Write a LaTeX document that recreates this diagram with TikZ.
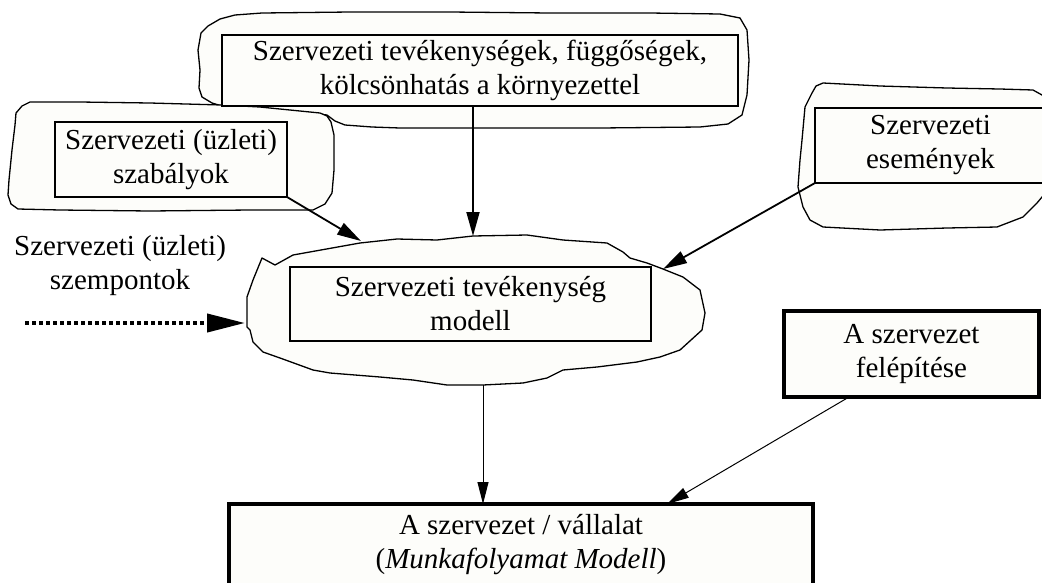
\documentclass[tikz,border=0pt]{standalone}
\usepackage{fontspec}
\setmainfont{Liberation Serif}
\usetikzlibrary{arrows.meta}

\definecolor{paper}{HTML}{FDFDFA}
\newcommand{\bodyfont}{\fontsize{29}{34}\selectfont}

\begin{document}
\begin{tikzpicture}[
		x=1pt, y=-1pt,
		box/.style={draw, line width=1.6pt, fill=paper, inner sep=0pt, outer sep=0pt, align=center, font=\bodyfont},
		thickbox/.style={box, line width=4pt},
		note/.style={align=center, font=\bodyfont, inner sep=0pt},
		blob/.style={draw, line width=1.3pt, fill=paper, line join=round},
		flow/.style={line width=1.8pt, -{Triangle[length=24pt,width=13pt]}},
		thinflow/.style={line width=1pt, -{Triangle[length=22pt,width=11pt]}},
		dotflow/.style={line width=4pt, dash pattern=on 4pt off 3pt, -{Triangle[length=38pt,width=18pt]}}
		]
		
		\fill[white] (0,0) rectangle (1042,582);
		\useasboundingbox (0,0) rectangle (1042,582);
		
		% -------------------------------------------------
		% Clouds round the boxes
		% -------------------------------------------------
		\draw[blob] (222,106) -- (212,103) -- (202,97) -- (199,88) -- (200,70) -- (198,50) -- (201,33) -- (208,26) -- (220,19) -- (235,15) -- (262,13) -- (350,12) -- (450,12) -- (550,13) -- (650,13) -- (720,14) -- (740,18) -- (747,30) -- (749,60) -- (747,95) -- (742,115) -- (728,124) -- (700,127) -- (600,128) -- (500,128) -- (400,128) -- (372,127) -- (345,125) -- (335,121) -- (327,115) -- (300,112) -- (270,110) -- (245,108) -- cycle;
		
		\draw[blob] (30,102) -- (22,106) -- (16,113) -- (15,125) -- (12,150) -- (9,180) -- (8,195) -- (11,204) -- (18,209) -- (60,210) -- (150,211) -- (250,210) -- (313,210) -- (325,204) -- (332,193) -- (334,170) -- (334,135) -- (331,122) -- (327,116) -- (320,113) -- (290,110) -- (260,107) -- (222,105) -- (150,103) -- (80,102) -- cycle;
		
		\draw[blob] (823,83) -- (880,86) -- (947,88) -- (1000,89) -- (1033,90) -- (1042,95) -- (1050,100) -- (1050,190) -- (1042,197) -- (1037,203) -- (1023,217) -- (997,227) -- (947,228) -- (880,230) -- (823,227) -- (810,220) -- (803,207) -- (798,187) -- (800,160) -- (802,140) -- (805,107) -- (812,93) -- (816,86) -- cycle;
		
		\draw[blob] (262,258) -- (275,265) -- (293,255) -- (360,243) -- (397,239) -- (437,240) -- (473,236) -- (527,235) -- (563,240) -- (607,243) -- (623,252) -- (630,258) -- (647,263) -- (663,269) -- (683,277) -- (700,290) -- (705,313) -- (702,330) -- (680,350) -- (660,357) -- (637,362) -- (597,367) -- (563,370) -- (547,378) -- (523,383) -- (483,385) -- (447,385) -- (413,380) -- (380,377) -- (330,373) -- (313,370) -- (280,358) -- (263,352) -- (253,342) -- (250,330) -- (247,327) -- (247,297) -- (253,280) -- cycle;
		
		% -------------------------------------------------
		% Boxes
		% -------------------------------------------------
		\node[box, minimum width=516pt, minimum height=71pt] (activities) at (480,70.5) {Szervezeti tevékenységek, függőségek,\\kölcsönhatás a környezettel};
		\node[box, minimum width=232pt, minimum height=75pt] (rules) at (171,159.5) {Szervezeti (üzleti)\\szabályok};
		\node[box, minimum width=231pt, minimum height=75pt] (events) at (930.5,145.5) {Szervezeti\\események};
		\node[box, minimum width=361pt, minimum height=74pt] (model) at (470.5,304) {Szervezeti tevékenység\\modell};
		\node[note] (viewpoints) at (120,266) {Szervezeti (üzleti)\\szempontok};
		\node[thickbox, minimum width=255pt, minimum height=86pt] (structure) at (911.5,354) {A szervezet\\felépítése};
		\node[thickbox, minimum width=584pt, minimum height=82pt] (process) at (521,545) {A szervezet / vállalat\\(\textit{Munkafolyamat Modell})};
		
		% -------------------------------------------------
		% Connectors
		% -------------------------------------------------
		\coordinate (modelTop) at (473,236);
		\coordinate (modelTopLeft) at (361,241);
		\coordinate (modelTopRight) at (663,269);
		\coordinate (modelLeft) at (245,323);
		\coordinate (viewStart) at (25,323);
		\coordinate (modelBottom) at (483,385);
		
		\draw[flow] (activities.south -| modelTop) -- (modelTop);
		\draw[flow] (rules.south east) -- (modelTopLeft);
		\draw[flow] (events.south west) -- (modelTopRight);
		\draw[dotflow] (viewStart) -- (modelLeft);
		\draw[thinflow] (modelBottom) -- (modelBottom |- process.north);
		\draw[thinflow] ([xshift=65pt]structure.south west) -- ([xshift=146pt]process.north);
		
	\end{tikzpicture}
\end{document}
